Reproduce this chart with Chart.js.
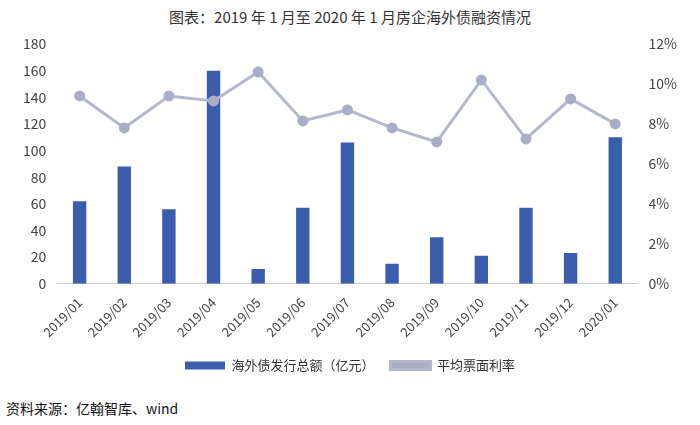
<!DOCTYPE html>
<html>
<head>
<meta charset="utf-8">
<script src="https://cdn.jsdelivr.net/npm/chart.js@4"></script>
<style>
  body { margin: 0; background: #fff; font-family: "Noto Sans CJK SC", sans-serif; }
  #wrap { position: relative; width: 700px; height: 425px; }
  #title { position: absolute; top: 6px; width: 100%; text-align: center; font-size: 15px; color: #333; }
  #src { position: absolute; left: 6px; top: 398px; font-size: 14px; color: #111; }
  #box { position: absolute; left: 0; top: 30px; width: 700px; height: 352px; }
</style>
</head>
<body>
<div id="wrap">
  <div id="title">图表：2019 年 1 月至 2020 年 1 月房企海外债融资情况</div>
  <div id="box"><canvas id="c"></canvas></div>
  <div id="src">资料来源：亿翰智库、wind</div>
</div>
<script>
const months = ['2019/01', '2019/02', '2019/03', '2019/04', '2019/05', '2019/06', '2019/07',
    '2019/08', '2019/09', '2019/10', '2019/11', '2019/12', '2020/01'];
const issueAmount = [62, 88, 56, 160, 11, 57, 106, 15, 35, 21, 57, 23, 110];
const couponRate = [9.4, 7.8, 9.4, 9.15, 10.6, 8.15, 8.7, 7.8, 7.1, 10.2, 7.25, 9.25, 8.0];

Chart.defaults.font.family = '"Noto Sans CJK SC", sans-serif';
Chart.defaults.color = '#444';

new Chart(document.getElementById('c'), {
    data: {
        labels: months,
        datasets: [
            {
                type: 'line',
                label: '平均票面利率',
                data: couponRate,
                yAxisID: 'y1',
                borderColor: '#b4b8cc',
                backgroundColor: '#a9aec6',
                borderWidth: 3,
                pointRadius: 4,
                pointBackgroundColor: '#a9aec6',
                pointBorderColor: '#a9aec6',
                order: 0
            },
            {
                type: 'bar',
                label: '海外债发行总额（亿元）',
                data: issueAmount,
                yAxisID: 'y',
                backgroundColor: '#3b5eac',
                barPercentage: 0.6,
                categoryPercentage: 0.5,
                order: 1
            }
        ]
    },
    options: {
        responsive: true,
        maintainAspectRatio: false,
        animation: false,
        layout: { padding: { left: 20, right: 20, top: 14 } },
        plugins: {
            legend: {
                position: 'bottom',
                reverse: true,
                labels: { boxWidth: 40, boxHeight: 8, font: { size: 13 }, color: '#333', padding: 16 }
            },
            tooltip: { enabled: false }
        },
        scales: {
            x: {
                grid: { display: false },
                border: { color: '#ccc' },
                ticks: { maxRotation: 45, minRotation: 45, font: { size: 13 }, color: '#444' }
            },
            y: {
                min: 0, max: 180,
                ticks: { stepSize: 20, font: { size: 14 }, color: '#444' },
                grid: { display: false },
                border: { display: false }
            },
            y1: {
                position: 'right',
                min: 0, max: 12,
                ticks: { stepSize: 2, font: { size: 14 }, color: '#444', callback: v => v + '%' },
                grid: { display: false },
                border: { display: false }
            }
        }
    }
});
</script>
</body>
</html>
